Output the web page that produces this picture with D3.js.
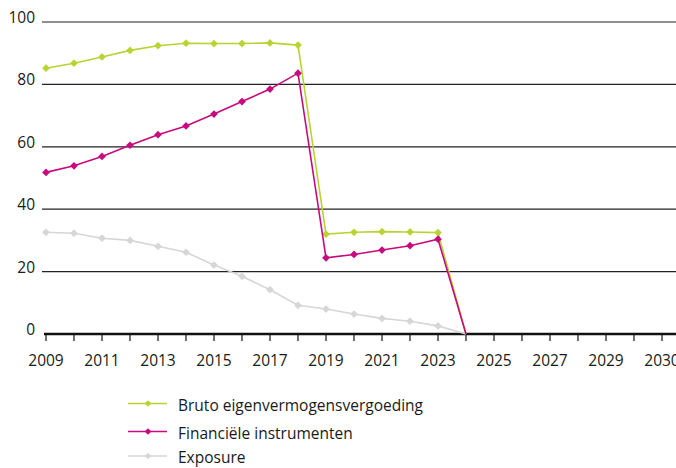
<!DOCTYPE html>
<html><head><meta charset="utf-8">
<script src="https://cdn.jsdelivr.net/npm/d3@7"></script>
<style>body{margin:0;background:#fff}svg{display:block}text{font-family:"Open Sans",Lato,sans-serif;fill:#1a1a1a}</style>
</head><body><svg id="c" width="676" height="468"></svg>
<script>
const years = d3.range(2009, 2032);
const tickLabels = ["2009","2011","2013","2015","2017","2019","2021","2023","2025","2027","2029","2030"];
const yTicks = [0,20,40,60,80,100];
const seriesNames = ["Bruto eigenvermogensvergoeding","Financiële instrumenten","Exposure"];
const colors = ["#b9d432","#c8097f","#d6d6d6"];
const bruto = [85.2,86.8,88.8,90.9,92.4,93.2,93.1,93.1,93.3,92.6,32.0,32.6,32.8,32.7,32.5,0];
const financieel = [51.8,53.9,56.9,60.5,63.9,66.7,70.5,74.5,78.5,83.6,24.4,25.5,26.9,28.3,30.4,0];
const exposure = [32.6,32.3,30.7,30.0,28.1,26.2,22.1,18.5,14.2,9.2,8.0,6.4,5.0,4.1,2.6,0];
const data = [bruto, financieel, exposure];

const svg = d3.select("#c");
const x = d3.scaleLinear().domain([2009, 2031]).range([46, 662]);
const y = d3.scaleLinear().domain([0, 100]).range([334, 22]);

// gridlines
svg.append("g").selectAll("line").data(yTicks.filter(d=>d>0)).join("line")
  .attr("x1", 42).attr("x2", 676).attr("y1", d=>y(d)).attr("y2", d=>y(d))
  .attr("stroke", "#222").attr("stroke-width", 1.2);
svg.append("g").selectAll("text").data(yTicks).join("text")
  .attr("x", 35).attr("y", d=>y(d)+1).attr("text-anchor","end")
  .attr("font-size", 15.5).text(d=>d);

// x axis
const xAxis = svg.append("g");
xAxis.append("line").attr("x1", 44).attr("x2", 676).attr("y1", 334).attr("y2", 334)
  .attr("stroke", "#111").attr("stroke-width", 2.5);
xAxis.selectAll("line.t").data(years).join("line").attr("class","t")
  .attr("x1", d=>x(d)).attr("x2", d=>x(d)).attr("y1", 334).attr("y2", 341)
  .attr("stroke", "#111").attr("stroke-width", 1.2);
xAxis.selectAll("text").data(tickLabels).join("text")
  .attr("x", (d,i)=>x(2009 + i*2)).attr("y", 366).attr("text-anchor","middle")
  .attr("font-size", 15.5).text(d=>d);

const line = d3.line().x((d,i)=>x(2009+i)).y(d=>y(d));
const diamond = d3.symbol().type(d3.symbolDiamond2).size(38);

// draw in back-to-front order: exposure, bruto, financieel
[2,0,1].forEach(k=>{
  const g = svg.append("g");
  g.append("path").attr("d", line(data[k])).attr("fill","none")
    .attr("stroke", colors[k]).attr("stroke-width", 1.6);
  g.selectAll("path.m").data(data[k].slice(0, data[k].length-1)).join("path").attr("class","m")
    .attr("transform", (d,i)=>`translate(${x(2009+i)},${y(d)})`)
    .attr("d", diamond).attr("fill", colors[k]);
});

// legend
const leg = svg.append("g");
const legY = [403.5, 431.5, 456];
seriesNames.forEach((n,i)=>{
  const ly = legY[i];
  leg.append("line").attr("x1",128).attr("x2",167).attr("y1",ly).attr("y2",ly)
    .attr("stroke", colors[i]).attr("stroke-width",1.6);
  leg.append("path").attr("transform",`translate(148,${ly})`).attr("d", d3.symbol().type(d3.symbolDiamond2).size(28)).attr("fill", colors[i]);
  leg.append("text").attr("x",178).attr("y",ly+7).attr("font-size",15.5).text(n);
});
</script></body></html>
